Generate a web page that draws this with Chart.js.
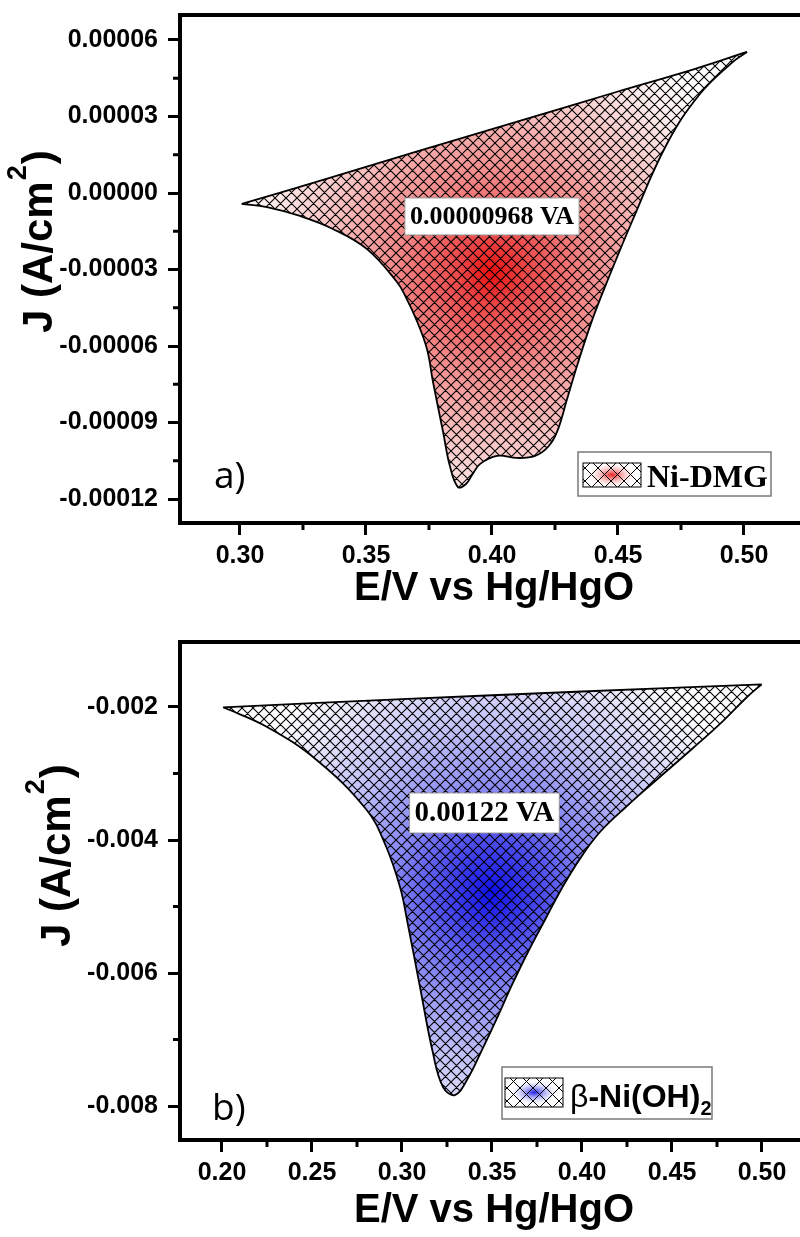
<!DOCTYPE html>
<html lang="es">
<head>
<meta charset="utf-8">
<title>Voltametría Ni-DMG y β-Ni(OH)2</title>
<script src="https://cdn.jsdelivr.net/npm/chart.js"></script>
<style>
  html, body { margin: 0; padding: 0; background: #fff; overflow: hidden; }
  .panel { width: 810px; }
  canvas { display: block; }
</style>
</head>
<body>
<div class="panel"><canvas id="graficoA" width="810" height="620"></canvas></div>
<div class="panel"><canvas id="graficoB" width="810" height="617"></canvas></div>

<script>
// ---- Datos del panel a) Ni-DMG (E en V vs Hg/HgO, J en A/cm2) ----
const potencialSupNiDMG = [0.3007, 0.33, 0.37, 0.41, 0.45, 0.48, 0.5012];
const corrienteSupNiDMG = [-4.3e-6, 4.3e-6, 16.2e-6, 28.0e-6, 39.8e-6, 48.5e-6, 55.3e-6];
const potencialInfNiDMG = [0.3007, 0.3107, 0.3238, 0.3369, 0.3504, 0.3623, 0.3660, 0.3702, 0.3742, 0.3766,
  0.3806, 0.3833, 0.3865, 0.3897, 0.3921, 0.3952, 0.4020, 0.4099, 0.4171, 0.4222, 0.4258, 0.4298, 0.4337,
  0.4389, 0.4429, 0.4560, 0.4694, 0.4825, 0.4956, 0.5012];
const corrienteInfNiDMG = [-4.3e-6, -5.5e-6, -9.0e-6, -14.1e-6, -22.0e-6, -34.9e-6, -41.2e-6, -50.2e-6, -61.2e-6, -74.1e-6,
  -93.7e-6, -107.1e-6, -115.3e-6, -114.1e-6, -110.6e-6, -106.3e-6, -103.1e-6, -103.9e-6, -103.1e-6, -99.6e-6, -93.7e-6, -80.8e-6, -67.9e-6,
  -52.2e-6, -41.6e-6, -10.2e-6, 19.2e-6, 38.8e-6, 51.4e-6, 55.3e-6];
const ticksXNiDMG = ['0.30', '0.35', '0.40', '0.45', '0.50'];
const ticksYNiDMG = ['-0.00012', '-0.00009', '-0.00006', '-0.00003', '0.00000', '0.00003', '0.00006'];
const menoresXNiDMG = [0.325, 0.375, 0.425, 0.475];
const menoresYNiDMG = [-0.000105, -0.000075, -0.000045, -0.000015, 0.000015, 0.000045];

// ---- Datos del panel b) β-Ni(OH)2 ----
const potencialSupBeta = [0.2007, 0.30, 0.40, 0.4998];
const corrienteSupBeta = [-0.0020045, -0.001882, -0.001767, -0.001659];
const potencialInfBeta = [0.2007, 0.2248, 0.2526, 0.2804, 0.2908, 0.2989, 0.3028, 0.3100, 0.3172, 0.3228,
  0.3294, 0.3367, 0.3444, 0.3528, 0.3611, 0.3700, 0.3794, 0.3889, 0.3989, 0.4100, 0.4250, 0.4394, 0.4617,
  0.4783, 0.4917, 0.4998];
const corrienteInfBeta = [-0.0020045, -0.002296, -0.002797, -0.003549, -0.004075, -0.004707, -0.005203, -0.006211, -0.007203, -0.007714,
  -0.007835, -0.007579, -0.007158, -0.006677, -0.006180, -0.005684, -0.005203, -0.004722, -0.004280, -0.003880, -0.003489, -0.003143, -0.002617,
  -0.002211, -0.001850, -0.001659];
const ticksXBeta = ['0.20', '0.25', '0.30', '0.35', '0.40', '0.45', '0.50'];
const ticksYBeta = ['-0.008', '-0.006', '-0.004', '-0.002'];
const menoresXBeta = [0.225, 0.275, 0.325, 0.375, 0.425, 0.475];
const menoresYBeta = [-0.007, -0.005, -0.003];

const fuenteSans = '"Liberation Sans", Arial, Helvetica, sans-serif';
const fuenteSerif = '"Liberation Serif", "Times New Roman", Times, serif';

// Une dos listas (E, J) en puntos {x, y}
const puntos = (e, j) => e.map((v, i) => ({ x: v, y: j[i] }));

// Trama cruzada en diagonal (canvas pequeño que se repite)
function crearTrama(paso, grosor) {
  const c = document.createElement('canvas');
  c.width = paso;
  c.height = paso;
  const g = c.getContext('2d');
  g.strokeStyle = '#000';
  g.lineWidth = grosor;
  g.beginPath();
  for (const k of [-paso, 0, paso]) {
    g.moveTo(k - 1, -1); g.lineTo(k + paso + 1, paso + 1);
    g.moveTo(k + paso + 1, -1); g.lineTo(k - 1, paso + 1);
  }
  g.stroke();
  return c;
}

// Título del eje Y girado, con el 2 como superíndice
function dibujarTituloY(ctx, x0, y0) {
  ctx.save();
  ctx.translate(x0, y0);
  ctx.rotate(-Math.PI / 2);
  ctx.textAlign = 'left';
  ctx.textBaseline = 'alphabetic';
  ctx.fillStyle = '#000';
  ctx.font = `bold 42px ${fuenteSans}`;
  let cx = 0;
  ctx.fillText('J (A/cm', cx, 0);
  cx += ctx.measureText('J (A/cm').width;
  ctx.font = `bold 27px ${fuenteSans}`;
  ctx.fillText('2', cx + 1, -26);
  cx += ctx.measureText('2').width + 2;
  ctx.font = `bold 42px ${fuenteSans}`;
  ctx.fillText(')', cx, 0);
  ctx.restore();
}

// Marco, marcas menores, títulos, etiqueta del área, leyenda y letra del panel
function pluginDecoracion(d) {
  return {
    id: 'decoracion',
    afterDraw(chart) {
      const { ctx, chartArea: a, scales: { x, y } } = chart;
      ctx.save();
      ctx.strokeStyle = '#000';
      ctx.lineWidth = 4;
      ctx.strokeRect(a.left, a.top, a.right - a.left, a.bottom - a.top);

      ctx.lineWidth = 3;
      ctx.beginPath();
      d.menoresX.forEach((v) => {
        const px = x.getPixelForValue(v);
        ctx.moveTo(px, a.bottom); ctx.lineTo(px, a.bottom + 7);
      });
      d.menoresY.forEach((v) => {
        const py = y.getPixelForValue(v);
        ctx.moveTo(a.left, py); ctx.lineTo(a.left - 7, py);
      });
      ctx.stroke();

      // título eje X
      ctx.fillStyle = '#000';
      ctx.font = `bold 40px ${fuenteSans}`;
      ctx.textAlign = 'center';
      ctx.textBaseline = 'alphabetic';
      ctx.fillText('E/V vs Hg/HgO', (a.left + a.right) / 2, d.baseTituloX);

      dibujarTituloY(ctx, d.tituloY[0], d.tituloY[1]);

      // recuadro con el valor del área integrada
      const et = d.etiqueta;
      ctx.font = `bold ${et.tam}px ${fuenteSerif}`;
      const ancho = ctx.measureText(et.texto).width + 10;
      const cxE = x.getPixelForValue(et.e);
      const cyE = y.getPixelForValue(et.j);
      ctx.fillStyle = '#fff';
      ctx.fillRect(cxE - ancho / 2, cyE - et.alto / 2, ancho, et.alto);
      ctx.strokeStyle = '#9a9a9a';
      ctx.lineWidth = 1;
      ctx.strokeRect(cxE - ancho / 2, cyE - et.alto / 2, ancho, et.alto);
      ctx.fillStyle = '#000';
      ctx.textAlign = 'center';
      ctx.textBaseline = 'middle';
      ctx.fillText(et.texto, cxE, cyE + 1);

      // leyenda
      const l = d.leyenda;
      ctx.fillStyle = '#fff';
      ctx.fillRect(l.caja[0], l.caja[1], l.caja[2], l.caja[3]);
      ctx.strokeStyle = '#7a7a7a';
      ctx.lineWidth = 1.5;
      ctx.strokeRect(l.caja[0], l.caja[1], l.caja[2], l.caja[3]);
      const [mx, my, mw, mh] = l.muestra;
      ctx.save();
      ctx.beginPath();
      ctx.rect(mx, my, mw, mh);
      ctx.clip();
      ctx.translate(mx + mw / 2, my + mh / 2);
      ctx.scale(2, 1);
      const gm = ctx.createRadialGradient(0, 0, 0, 0, 0, 13);
      gm.addColorStop(0, l.colorCentro);
      gm.addColorStop(1, 'rgba(255,255,255,0)');
      ctx.fillStyle = gm;
      ctx.fillRect(-mw, -mh, 2 * mw, 2 * mh);
      ctx.restore();
      ctx.fillStyle = ctx.createPattern(crearTrama(13, 1), 'repeat');
      ctx.fillRect(mx, my, mw, mh);
      ctx.strokeStyle = '#000';
      ctx.lineWidth = 1;
      ctx.strokeRect(mx, my, mw, mh);
      ctx.fillStyle = '#000';
      ctx.textAlign = 'left';
      ctx.textBaseline = 'alphabetic';
      let tx = l.texto[0];
      l.partes.forEach((p) => {
        ctx.font = p.fuente;
        ctx.fillText(p.t, tx, l.texto[1] + (p.dy || 0));
        tx += ctx.measureText(p.t).width;
      });

      // letra del panel
      ctx.font = `37px "Open Sans", "Noto Sans", sans-serif`;
      ctx.fillText(d.letra.t, d.letra.x, d.letra.y);
      ctx.restore();
    }
  };
}

function crearGrafico(id, c) {
  const canvas = document.getElementById(id);
  const trama = canvas.getContext('2d').createPattern(crearTrama(11, 1.1), 'repeat');

  // degradado radial centrado en un punto del espacio de datos
  const degradado = (ctx) => {
    const chart = ctx.chart;
    if (!chart.chartArea) return 'transparent';
    const cx = chart.scales.x.getPixelForValue(c.centro[0]);
    const cy = chart.scales.y.getPixelForValue(c.centro[1]);
    const g = chart.ctx.createRadialGradient(cx, cy, 0, cx, cy, c.radio);
    c.paradas.forEach(([p, col]) => g.addColorStop(p, col));
    return g;
  };

  const sup = puntos(c.eSup, c.jSup);
  const inf = puntos(c.eInf, c.jInf);
  const comun = { pointRadius: 0, tension: 0.4 };

  return new Chart(canvas, {
    type: 'line',
    data: {
      datasets: [
        { ...comun, data: sup, borderColor: '#000', borderWidth: 1.8, fill: false },
        { ...comun, data: inf, borderColor: '#000', borderWidth: 1.8, fill: '-1', backgroundColor: trama },
        { ...comun, data: sup, borderWidth: 0, fill: false },
        { ...comun, data: inf, borderWidth: 0, fill: '-1', backgroundColor: degradado }
      ]
    },
    options: {
      responsive: false,
      animation: false,
      layout: { autoPadding: false, padding: { top: c.margenSup, right: 2, left: 0, bottom: 0 } },
      plugins: { legend: { display: false }, tooltip: { enabled: false } },
      scales: {
        x: {
          type: 'linear',
          min: c.xMin,
          max: c.xMax,
          afterBuildTicks: (s) => { s.ticks = c.ticksX.map((t) => ({ value: Number(t) })); },
          afterFit: (s) => { s.height = 97; s.paddingLeft = 0; s.paddingRight = 0; },
          ticks: {
            callback: (v, i) => c.ticksX[i],
            font: { family: fuenteSans, size: 25, weight: 'bold' },
            color: '#000',
            padding: 6,
            maxRotation: 0,
            autoSkip: false
          },
          grid: { drawOnChartArea: false, drawTicks: true, tickLength: 12, tickWidth: 3, tickColor: '#000' },
          border: { display: false }
        },
        y: {
          type: 'linear',
          min: c.yMin,
          max: c.yMax,
          afterBuildTicks: (s) => { s.ticks = c.ticksY.map((t) => ({ value: Number(t) })); },
          afterFit: (s) => { s.width = 180; s.paddingTop = 0; s.paddingBottom = 0; },
          ticks: {
            callback: (v, i) => c.ticksY[i],
            font: { family: fuenteSans, size: 25, weight: 'bold' },
            color: '#000',
            padding: 10,
            autoSkip: false
          },
          grid: { drawOnChartArea: false, drawTicks: true, tickLength: 12, tickWidth: 3, tickColor: '#000' },
          border: { display: false }
        }
      }
    },
    plugins: [pluginDecoracion(c.deco)]
  });
}

// Panel a) Ni-DMG
crearGrafico('graficoA', {
  eSup: potencialSupNiDMG, jSup: corrienteSupNiDMG,
  eInf: potencialInfNiDMG, jInf: corrienteInfNiDMG,
  ticksX: ticksXNiDMG, ticksY: ticksYNiDMG,
  xMin: 0.2762, xMax: 0.5254, yMin: -0.0001294, yMax: 0.0000698,
  margenSup: 15,
  centro: [0.40, -31e-6], radio: 270,
  paradas: [[0, 'rgb(235,15,15)'], [0.12, 'rgb(238,70,70)'], [0.35, 'rgb(243,135,135)'], [0.6, 'rgb(248,190,190)'], [0.85, 'rgb(253,235,235)'], [1, 'rgb(255,255,255)']],
  deco: {
    menoresX: menoresXNiDMG, menoresY: menoresYNiDMG,
    baseTituloX: 600,
    tituloY: [52, 333],
    etiqueta: { texto: '0.00000968 VA', tam: 26, e: 0.40, j: -9.2e-6, alto: 37 },
    leyenda: {
      caja: [578, 452, 193, 44], muestra: [583, 463, 58, 24], colorCentro: 'rgba(235,20,20,0.95)',
      texto: [647, 487],
      partes: [{ t: 'Ni-DMG', fuente: `bold 32px ${fuenteSerif}` }]
    },
    letra: { t: 'a)', x: 214, y: 488 }
  }
});

// Panel b) β-Ni(OH)2
crearGrafico('graficoB', {
  eSup: potencialSupBeta, jSup: corrienteSupBeta,
  eInf: potencialInfBeta, jInf: corrienteInfBeta,
  ticksX: ticksXBeta, ticksY: ticksYBeta,
  xMin: 0.17667, xMax: 0.52556, yMin: -0.008511, yMax: -0.0010226,
  margenSup: 22,
  centro: [0.35, -0.00478], radio: 270,
  paradas: [[0, 'rgb(15,15,235)'], [0.12, 'rgb(55,55,238)'], [0.35, 'rgb(130,130,243)'], [0.6, 'rgb(190,190,248)'], [0.85, 'rgb(232,232,252)'], [1, 'rgb(255,255,255)']],
  deco: {
    menoresX: menoresXBeta, menoresY: menoresYBeta,
    baseTituloX: 602,
    tituloY: [70, 327],
    etiqueta: { texto: '0.00122 VA', tam: 29, e: 0.3458, j: -0.003594, alto: 40 },
    leyenda: {
      caja: [502, 447, 210, 52], muestra: [505, 458, 58, 29], colorCentro: 'rgba(20,20,235,0.95)',
      texto: [570, 487],
      partes: [
        { t: 'β', fuente: `32px ${fuenteSans}` },
        { t: '-Ni(OH)', fuente: `bold 32px ${fuenteSans}` },
        { t: '2', fuente: `bold 20px ${fuenteSans}`, dy: 8 }
      ]
    },
    letra: { t: 'b)', x: 212, y: 500 }
  }
});
</script>
</body>
</html>
